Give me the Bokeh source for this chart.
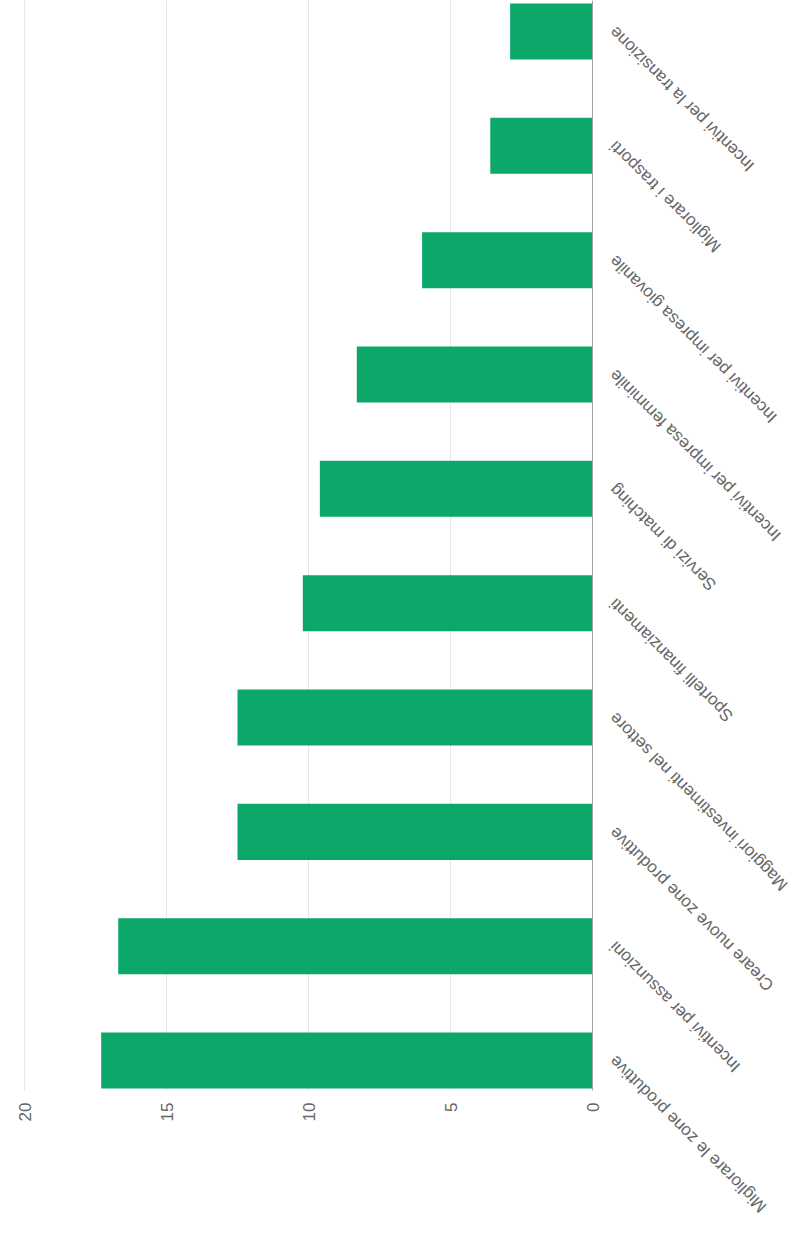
import math
import numpy as np
from bokeh.plotting import figure
from bokeh.layouts import row
from bokeh.models import ColumnDataSource, Range1d, FixedTicker, Span
from bokeh.core.properties import value
from bokeh.embed import file_html
from bokeh.resources import INLINE

categories = [
    "Migliorare le zone produttive",
    "Incentivi per assunzioni",
    "Creare nuove zone produttive",
    "Maggiori investimenti nel settore",
    "Sportelli finanziamenti",
    "Servizi di matching",
    "Incentivi per impresa femminile",
    "Incentivi per impresa giovanile",
    "Migliorare i trasporti",
    "Incentivi per la transizione",
]
values = [17.3, 16.7, 12.5, 12.5, 10.2, 9.6, 8.3, 6.0, 3.6, 2.9]
value_ticks = [0, 5, 10, 15, 20]

pos = np.arange(len(categories))
src = ColumnDataSource(dict(y=pos, v=values, zero=[0] * len(values), cat=categories))

# layout geometry (pixels)
PX_PER_UNIT = 28.4
FRAME_H = 1090
Y_TOP, Y_BOTTOM = 9.271, -0.262
ppu_y = FRAME_H / (Y_TOP - Y_BOTTOM)

p = figure(
    output_backend="svg", toolbar_location=None,
    frame_width=580, frame_height=FRAME_H,
    x_range=Range1d(20 + 8 / PX_PER_UNIT, -4 / PX_PER_UNIT),
    y_range=Range1d(Y_BOTTOM, Y_TOP),
    y_axis_location=None,
    min_border_left=16, min_border_right=8, min_border_top=0, min_border_bottom=40,
    background_fill_color="white", border_fill_color="white",
)
p.outline_line_color = None
p.ygrid.visible = False
p.xgrid.ticker = FixedTicker(ticks=value_ticks)
p.xgrid.grid_line_color = "#e6e6e6"
p.xgrid.grid_line_width = 1

p.xaxis.ticker = FixedTicker(ticks=value_ticks)
p.xaxis.axis_line_color = None
p.xaxis.major_tick_line_color = None
p.xaxis.minor_tick_line_color = None
p.xaxis.major_tick_out = 0
p.xaxis.major_tick_in = 0
p.xaxis.major_label_orientation = math.pi / 2
p.xaxis.major_label_standoff = 12
p.xaxis.major_label_text_font = "Liberation Sans"
p.xaxis.major_label_text_font_size = "17px"
p.xaxis.major_label_text_color = "#666666"

p.hbar(y="y", left="zero", right="v", height=0.49, source=src,
       fill_color="#0ba86a", line_color=None)

p.add_layout(Span(location=0, dimension="height", line_color="#a0a0a0", line_width=1))

# category label strip, sharing the same vertical scale
LABEL_H = 1235
q = figure(
    output_backend="svg", toolbar_location=None,
    frame_width=202, frame_height=LABEL_H,
    x_range=Range1d(0, 202),
    y_range=Range1d(Y_TOP - LABEL_H / ppu_y, Y_TOP),
    x_axis_location=None, y_axis_location=None,
    min_border=0,
    background_fill_color="white", border_fill_color="white",
)
q.outline_line_color = None
q.xgrid.visible = False
q.ygrid.visible = False
q.text(x=0, y="y", text="cat", source=src,
       angle=3 * math.pi / 4, text_align="right", text_baseline="middle",
       x_offset=8, y_offset=-2,
       text_font=value("Liberation Sans"), text_font_size="17px",
       text_color="#666666")

layout = row(p, q)
open("out.html", "w").write(file_html(layout, INLINE))
